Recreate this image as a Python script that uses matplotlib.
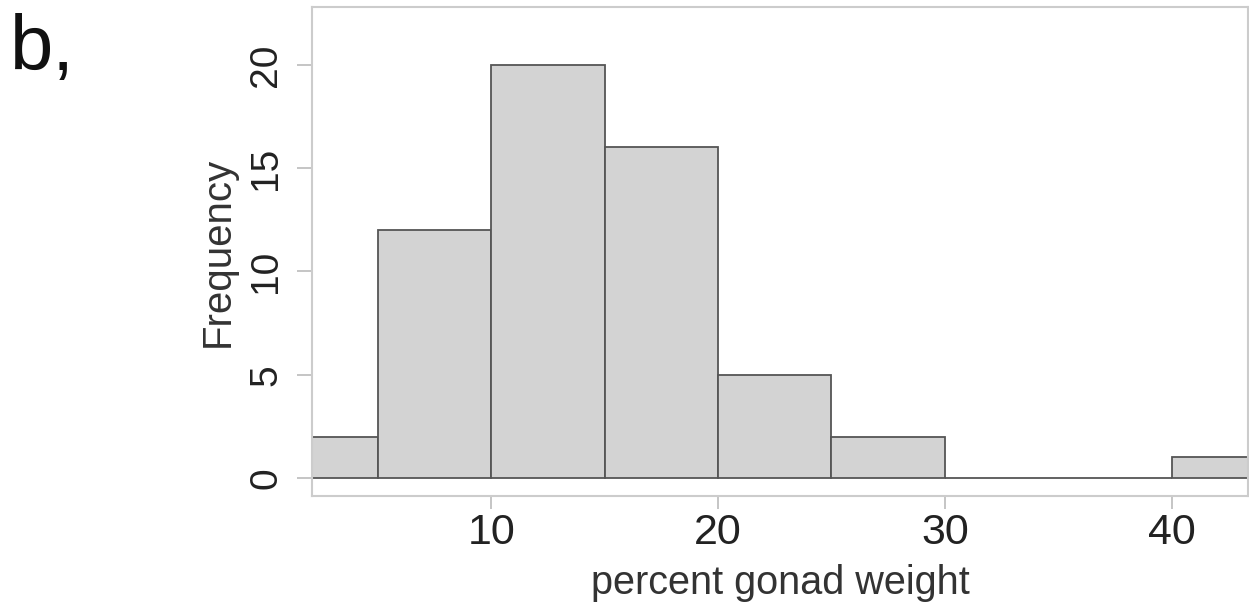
import numpy as np
import matplotlib.pyplot as plt

plt.rcParams['font.family'] = ['Liberation Sans', 'DejaVu Sans']

bin_edges = [0, 5, 10, 15, 20, 25, 30, 35, 40, 45]
counts = [2, 12, 20, 16, 5, 2, 0, 0, 1]
x_ticks = [10, 20, 30, 40]
y_ticks = [0, 5, 10, 15, 20]

fig = plt.figure(figsize=(12.49, 6.07), dpi=100)
ax = fig.add_axes([0.2498, 0.1829, 0.7492, 0.8056])

lefts = np.array(bin_edges[:-1])
widths = np.diff(bin_edges)
ax.bar(lefts, counts, width=widths, align='edge', color='#d3d3d3',
       edgecolor='#555555', linewidth=1.3)

ax.set_xlim(2.1, 43.35)
ax.set_ylim(-0.87, 22.8)
ax.set_xticks(x_ticks)
ax.set_yticks(y_ticks)
ax.set_yticklabels([str(v) for v in y_ticks], rotation=90, va='center')

for s in ax.spines.values():
    s.set_color('#cccccc')
    s.set_linewidth(1.5)

ax.tick_params(axis='both', colors='#bbbbbb', labelcolor='#222222', width=1.2)
ax.tick_params(axis='x', labelsize=31, length=9, pad=3)
ax.tick_params(axis='y', labelsize=28, length=11, pad=9)

ax.set_xlabel('percent gonad weight', fontsize=28.5, color='#333333', labelpad=8)
ax.set_ylabel('Frequency', fontsize=29, color='#333333', labelpad=8)

fig.text(0.008, 1 - 70 / 607, 'b,', fontsize=56, va='baseline', ha='left',
         color='#111111')

fig.savefig('out.png', dpi=100)
